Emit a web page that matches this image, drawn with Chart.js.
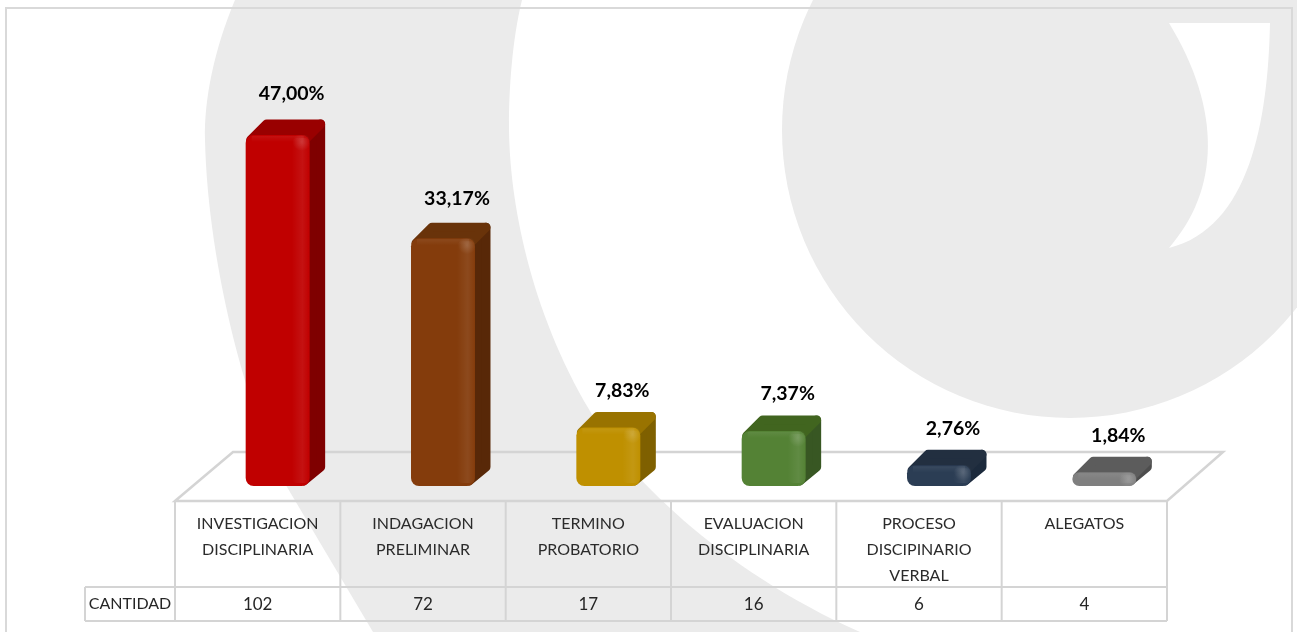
<!DOCTYPE html>
<html>
<head>
<meta charset="utf-8">
<title>Cantidad por etapa procesal</title>
<script src="https://cdn.jsdelivr.net/npm/chart.js@4"></script>
<style>
    html, body { margin: 0; padding: 0; background: #fff; overflow: hidden; }
    canvas { display: block; }
</style>
</head>
<body>
<canvas id="chart-cantidad" width="1297" height="632"></canvas>
<script>
// Chart data
const categories = [
    ['INVESTIGACION', 'DISCIPLINARIA'],
    ['INDAGACION', 'PRELIMINAR'],
    ['TERMINO', 'PROBATORIO'],
    ['EVALUACION', 'DISCIPLINARIA'],
    ['PROCESO', 'DISCIPINARIO', 'VERBAL'],
    ['ALEGATOS']
];
const cantidad = [102, 72, 17, 16, 6, 4];
const porcentajes = ['47,00%', '33,17%', '7,83%', '7,37%', '2,76%', '1,84%'];
const rowLabel = 'CANTIDAD';

// Front, top and side colours of each bar
const frontColors = ['#c00000', '#843c0c', '#bf9000', '#548235', '#2b3d54', '#7f7f7f'];
const topColors = ['#990000', '#69330a', '#997300', '#41651f', '#222f40', '#5c5c5c'];
const sideColors = ['#7f0000', '#582808', '#7f6000', '#385723', '#1c2a3c', '#4d4d4d'];

const LINE = '#d4d4d4';
const DEPTH = 16;
const BAR_SHIFT = 20; // bars sit to the right of the category centre

// Grey watermark and outer frame
const backdrop = {
    id: 'backdrop',
    beforeDraw(chart) {
        const ctx = chart.ctx;
        ctx.save();
        ctx.fillStyle = '#ffffff';
        ctx.fillRect(0, 0, chart.width, chart.height);

        ctx.fillStyle = '#ebebeb';
        ctx.beginPath();
        ctx.moveTo(235, 0);
        ctx.bezierCurveTo(214, 50, 204, 100, 205, 140);
        ctx.bezierCurveTo(208, 270, 250, 420, 287, 487);
        ctx.lineTo(373, 632);
        ctx.lineTo(860, 632);
        ctx.bezierCurveTo(720, 570, 620, 470, 590, 411);
        ctx.bezierCurveTo(530, 310, 509, 200, 509, 125);
        ctx.bezierCurveTo(509, 90, 512, 40, 522, 0);
        ctx.closePath();
        ctx.fill();

        ctx.beginPath();
        ctx.arc(1070, 130, 288, 0, Math.PI * 2);
        ctx.fill();

        ctx.fillStyle = '#ffffff';
        ctx.beginPath();
        ctx.moveTo(1169, 23);
        ctx.lineTo(1270, 23);
        ctx.bezierCurveTo(1268, 120, 1250, 228, 1169, 248);
        ctx.bezierCurveTo(1220, 190, 1222, 110, 1169, 23);
        ctx.closePath();
        ctx.fill();

        ctx.strokeStyle = '#d9d9d9';
        ctx.lineWidth = 2;
        ctx.strokeRect(6, 8, 1286, 700);
        ctx.restore();
    }
};

// Floor of the plot and the data table under it
const floorAndTable = {
    id: 'floorAndTable',
    beforeDatasetsDraw(chart) {
        const ctx = chart.ctx;
        const x = chart.scales.x;
        const cell = (x.right - x.left) / categories.length;
        ctx.save();
        ctx.strokeStyle = LINE;
        ctx.lineWidth = 2.5;
        ctx.beginPath();
        ctx.moveTo(x.left, 501);
        ctx.lineTo(233, 452);
        ctx.lineTo(1223, 452);
        ctx.lineTo(x.right, 501);
        ctx.closePath();
        ctx.stroke();

        ctx.lineWidth = 2;
        ctx.beginPath();
        for (let i = 0; i <= categories.length; i++) {
            ctx.moveTo(x.left + i * cell, 501);
            ctx.lineTo(x.left + i * cell, 621);
        }
        ctx.moveTo(85, 587);
        ctx.lineTo(x.right, 587);
        ctx.moveTo(85, 621);
        ctx.lineTo(x.right, 621);
        ctx.moveTo(85, 587);
        ctx.lineTo(85, 621);
        ctx.stroke();

        ctx.fillStyle = '#262626';
        ctx.font = '16px Lato';
        ctx.textAlign = 'center';
        ctx.textBaseline = 'middle';
        ctx.fillText(rowLabel, 130, 604);
        ctx.font = '17px Lato';
        cantidad.forEach((v, i) => ctx.fillText(String(v), x.getPixelForValue(i), 605));
        ctx.restore();
    }
};

// Top and side faces behind the bars, gloss and percentages on top of them
const bars3d = {
    id: 'bars3d',
    beforeDatasetsDraw(chart) {
        const ctx = chart.ctx;
        ctx.save();
        ctx.translate(BAR_SHIFT, 0);
        ctx.lineJoin = 'round';
        ctx.lineWidth = 9;
        chart.getDatasetMeta(0).data.forEach((bar, i) => {
            const l = bar.x - bar.width / 2;
            const r = bar.x + bar.width / 2;
            const t = bar.y;
            const b = bar.base;
            const face = (points, color) => {
                ctx.fillStyle = color;
                ctx.strokeStyle = color;
                ctx.beginPath();
                points.forEach((p, n) => n ? ctx.lineTo(p[0], p[1]) : ctx.moveTo(p[0], p[1]));
                ctx.closePath();
                ctx.fill();
                ctx.stroke();
            };
            face([[r - 6, t + 6], [r + DEPTH - 5, t - DEPTH + 5], [r + DEPTH - 5, b - DEPTH - 3], [r - 6, b - 5]], sideColors[i]);
            face([[l + 5, t + 5], [l + DEPTH + 5, t - DEPTH + 5], [r + DEPTH - 5, t - DEPTH + 5], [r - 5, t + 5]], topColors[i]);
        });
    },
    afterDatasetsDraw(chart) {
        const ctx = chart.ctx;
        const meta = chart.getDatasetMeta(0);
        meta.data.forEach(bar => {
            const l = bar.x - bar.width / 2;
            const r = bar.x + bar.width / 2;
            const h = bar.base - bar.y;
            const strip = ctx.createLinearGradient(r - 18, 0, r, 0);
            strip.addColorStop(0, 'rgba(255,255,255,0)');
            strip.addColorStop(0.6, 'rgba(255,255,255,0.07)');
            strip.addColorStop(1, 'rgba(255,255,255,0)');
            ctx.fillStyle = strip;
            ctx.beginPath();
            ctx.roundRect(r - 18, bar.y + 3, 18, h - 6, 5);
            ctx.fill();

            // brighter spot where the highlight meets the top bevel
            const spot = ctx.createRadialGradient(r - 8, bar.y + 7, 0, r - 8, bar.y + 7, 9);
            spot.addColorStop(0, 'rgba(255,255,255,0.16)');
            spot.addColorStop(1, 'rgba(255,255,255,0)');
            ctx.fillStyle = spot;
            ctx.fillRect(r - 17, bar.y, 17, Math.min(16, h));

            const bevel = ctx.createLinearGradient(0, bar.y, 0, bar.y + 7);
            bevel.addColorStop(0, 'rgba(255,255,255,0.08)');
            bevel.addColorStop(1, 'rgba(255,255,255,0)');
            ctx.fillStyle = bevel;
            ctx.fillRect(l + 6, bar.y + 1, bar.width - 12, 7);
        });
        ctx.restore();

        ctx.save();
        ctx.fillStyle = '#000';
        ctx.font = 'bold 19.5px Lato';
        ctx.textAlign = 'center';
        ctx.textBaseline = 'middle';
        meta.data.forEach((bar, i) => {
            const lift = 36 + (bar.base - bar.y) * 0.014;
            ctx.fillText(porcentajes[i], bar.x + BAR_SHIFT + 14, bar.y - lift);
        });
        ctx.restore();
    }
};

new Chart(document.getElementById('chart-cantidad'), {
    type: 'bar',
    data: {
        labels: categories,
        datasets: [{
            label: 'CANTIDAD',
            data: cantidad,
            backgroundColor: frontColors,
            borderRadius: 8,
            borderSkipped: false,
            categoryPercentage: 1,
            barPercentage: 0.387,
            clip: false
        }]
    },
    plugins: [backdrop, floorAndTable, bars3d],
    options: {
        responsive: false,
        animation: false,
        layout: {
            padding: { left: 175, right: 130, top: 73, bottom: 0 }
        },
        plugins: {
            legend: { display: false },
            tooltip: { enabled: false }
        },
        scales: {
            y: {
                display: false,
                min: 0,
                max: 120
            },
            x: {
                grid: { display: false },
                border: { display: false },
                afterFit: (scale) => { scale.height = 146; },
                ticks: {
                    autoSkip: false,
                    maxRotation: 0,
                    padding: 17,
                    color: '#2b2b2b',
                    font: { family: 'Lato', size: 16, lineHeight: 1.63 }
                }
            }
        }
    }
});
</script>
</body>
</html>
